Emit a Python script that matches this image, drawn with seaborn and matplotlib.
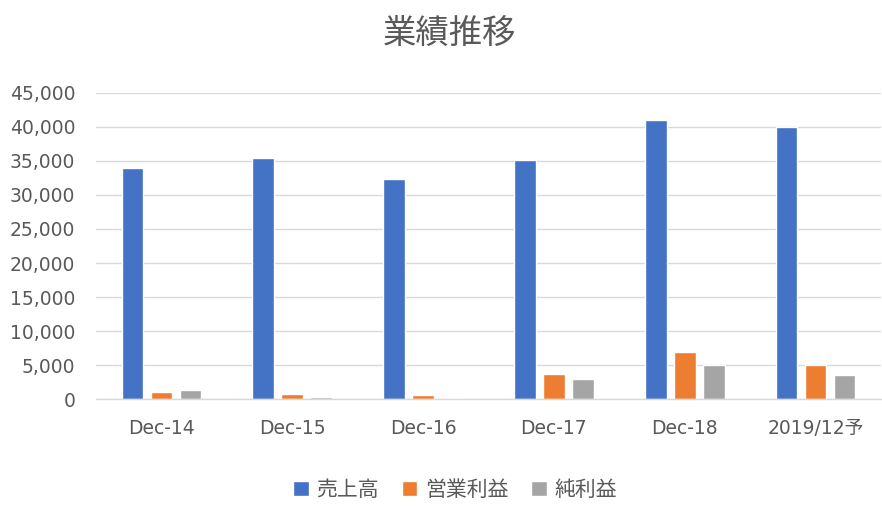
import pandas as pd
import matplotlib
matplotlib.use("Agg")
import matplotlib.pyplot as plt
import seaborn as sns

# data
periods = ["Dec-14", "Dec-15", "Dec-16", "Dec-17", "Dec-18", "2019/12予"]
sales = [34000, 35400, 32400, 35100, 41000, 40000]
operating_profit = [1100, 800, 700, 3700, 7000, 5000]
net_profit = [1300, 400, 200, 3000, 5000, 3500]
series_names = ["売上高", "営業利益", "純利益"]
colors = ["#4472C4", "#ED7D31", "#A5A5A5"]
y_ticks = [0, 5000, 10000, 15000, 20000, 25000, 30000, 35000, 40000, 45000]

df = pd.DataFrame({"period": periods,
                   series_names[0]: sales,
                   series_names[1]: operating_profit,
                   series_names[2]: net_profit})
df = df.melt(id_vars="period", var_name="series", value_name="value")

sns.set_style("white")
plt.rcParams['font.family'] = ['DejaVu Sans', 'Noto Sans CJK JP']
cjk = ['Noto Sans CJK JP', 'DejaVu Sans']
text_color = "#595959"

fig = plt.figure(figsize=(8.82, 5.16), dpi=100)
ax = fig.add_axes([96 / 882, 1 - 399.3 / 516, 785 / 882, (399.3 - 92.7) / 516])

sns.barplot(data=df, x="period", y="value", hue="series", order=periods,
            hue_order=series_names, palette=colors, width=0.665, gap=0.25,
            saturation=1, ax=ax, legend=True)

ax.set_ylim(0, 45000)
ax.set_yticks(y_ticks)
ax.set_yticklabels([f"{v:,}" for v in y_ticks])
ax.yaxis.grid(True, color="#D9D9D9", linewidth=1)
ax.set_axisbelow(True)
for s in ["top", "right", "left"]:
    ax.spines[s].set_visible(False)
ax.spines["bottom"].set_color("#D9D9D9")
ax.spines["bottom"].set_linewidth(1)
ax.tick_params(axis="y", length=0, pad=15, labelsize=13.5, labelcolor=text_color)
ax.tick_params(axis="x", length=0, pad=14, labelsize=13.5, labelcolor=text_color)
ax.set_xlabel("")
ax.set_ylabel("")

fig.text(0.51, 1 - 33 / 516, "業績推移", ha="center", va="center",
         fontsize=24, color=text_color, family=cjk)

handles, labels = ax.get_legend_handles_labels()
leg = ax.legend(handles, labels, loc="center", bbox_to_anchor=(455 / 882, 1 - 490 / 516),
                bbox_transform=fig.transFigure, ncol=3, frameon=False,
                prop={"family": cjk, "size": 15},
                handlelength=0.75, handleheight=0.75, handletextpad=0.35,
                columnspacing=1.1, labelcolor=text_color)

fig.savefig("out.png", dpi=100)
